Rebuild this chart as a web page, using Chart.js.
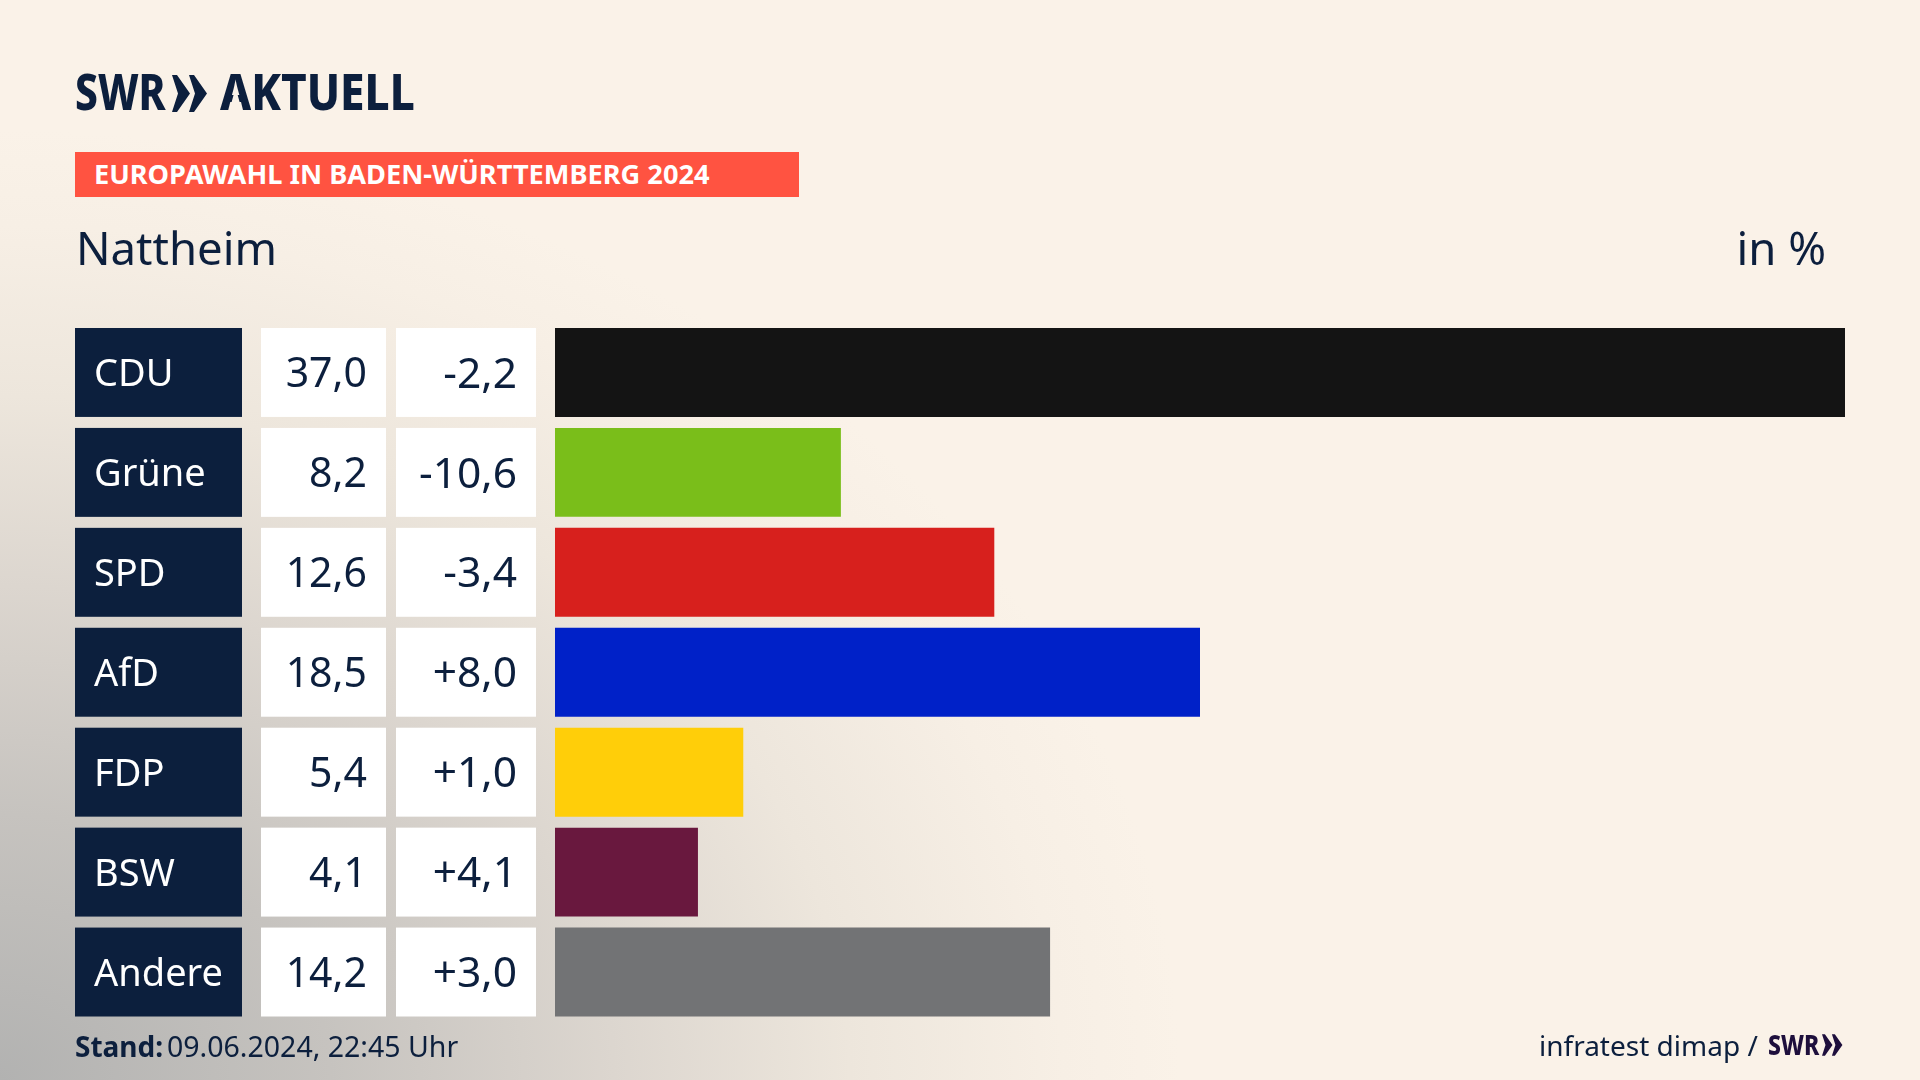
<!DOCTYPE html>
<html lang="de"><head><meta charset="utf-8">
<script src="https://cdn.jsdelivr.net/npm/chart.js@4"></script>
<style>
html,body{margin:0;padding:0;width:1920px;height:1080px;overflow:hidden}
body{position:relative;background:
 radial-gradient(ellipse 1180px 950px at 0 1080px,#b2b2b1 0,#c6c3bf 28%,#dcd6cf 52%,#ede6dc 72%,#f7efe5 90%,#faf2e8 100%) #faf2e8;
 font-family:"Noto Sans",sans-serif;color:#0c1f3d}
canvas{position:absolute;left:0;top:0}
.t{position:absolute;white-space:nowrap;line-height:1;transform-origin:0 0}
.banner{position:absolute;left:75px;top:152px;width:724px;height:45px;background:#ff5341}
.a{display:inline-block;clip-path:polygon(0 0,100% 0,100% 100%,75% 100%,50% 42%,25% 100%,0 100%)}
svg{position:absolute;overflow:visible}
</style></head><body>
<canvas id="c" width="1920" height="1080"></canvas>
<div class="t" style="left:75px;top:67px;font-size:49px;font-weight:800;transform:scaleX(.83)">SWR</div>
<svg style="left:172px;top:75px" width="36" height="37" viewBox="0 0 36 37"><polygon fill="#0c1f3d" points="0,0 5,0 18,18.5 5,37 0,37 6,18.5"/><polygon fill="#0c1f3d" points="17,0 22,0 35,18.5 22,37 17,37 23,18.5"/></svg>
<div class="t" style="left:220px;top:67px;font-size:49px;font-weight:800;transform:scaleX(.9)"><span class="a">A</span>KTUELL</div>
<div class="banner"></div>
<div class="t" style="left:94px;top:160px;font-size:27.2px;font-weight:700;color:#fff">EUROPAWAHL IN BADEN-WÜRTTEMBERG 2024</div>
<div class="t" style="left:76px;top:225px;font-size:45.5px">Nattheim</div>
<div class="t" style="right:94px;top:225px;font-size:45.5px">in %</div>
<div class="t" style="left:75px;top:1032px;font-size:28px;font-weight:700">Stand:</div>
<div class="t" style="left:167px;top:1032px;font-size:28.5px">09.06.2024, 22:45 Uhr</div>
<div class="t" style="left:1539px;top:1031px;font-size:28px">infratest dimap /</div>
<div class="t" style="left:1768px;top:1030px;font-size:28px;font-weight:800;color:#1e0f3c;transform:scaleX(.82)">SWR</div>
<svg style="left:1822px;top:1034px" width="21" height="22" viewBox="0 0 36 37"><polygon fill="#1e0f3c" points="0,0 5,0 18,18.5 5,37 0,37 6,18.5"/><polygon fill="#1e0f3c" points="17,0 22,0 35,18.5 22,37 17,37 23,18.5"/></svg>
<script>
const parties=["CDU","Grüne","SPD","AfD","FDP","BSW","Andere"];
const shares=[37.0,8.2,12.6,18.5,5.4,4.1,14.2];
const changes=["-2,2","-10,6","-3,4","+8,0","+1,0","+4,1","+3,0"];
const shareLabels=["37,0","8,2","12,6","18,5","5,4","4,1","14,2"];
const barColors=["#141414","#7abe1a","#d7201d","#0021c8","#ffce09","#69183e","#727375"];
const navy="#0c1f3d";
const FONT='"Noto Sans",sans-serif';
const tablePlugin={id:"table",
 beforeDraw(ch){
  const g=ch.ctx,m=ch.getDatasetMeta(0);
  m.data.forEach(b=>{
   const top=b.y-b.height/2,h=b.height;
   g.fillStyle=navy;g.fillRect(75,top,167,h);
   g.fillStyle="#fff";g.fillRect(261,top,125,h);g.fillRect(396,top,140,h);
  });
 },
 afterDraw(ch){
  const g=ch.ctx,m=ch.getDatasetMeta(0);
  g.save();g.fillStyle=navy;g.textAlign="right";g.textBaseline="middle";
  m.data.forEach((b,i)=>{
   g.font='41px '+FONT;g.fillText(shareLabels[i],367,b.y+3);
   g.font='42.5px '+FONT;g.fillText(changes[i],517,b.y+3);
  });
  g.restore();
 }};
new Chart(document.getElementById("c"),{
 type:"bar",
 data:{labels:parties,datasets:[{data:shares,backgroundColor:barColors,barPercentage:.89,categoryPercentage:1,borderWidth:0}]},
 options:{indexAxis:"y",responsive:false,animation:false,devicePixelRatio:1,
  layout:{padding:{left:94,right:75,top:322.5,bottom:58}},
  plugins:{legend:{display:false},tooltip:{enabled:false}},
  scales:{
   x:{display:false,min:0,max:37,grid:{display:false}},
   y:{afterFit(s){s.width=461},border:{display:false},grid:{display:false,drawTicks:false},
      ticks:{crossAlign:"far",color:"#fff",padding:0,labelOffset:3,font:{family:FONT,size:38}}}
  }},
 plugins:[tablePlugin]});
</script>
</body></html>
